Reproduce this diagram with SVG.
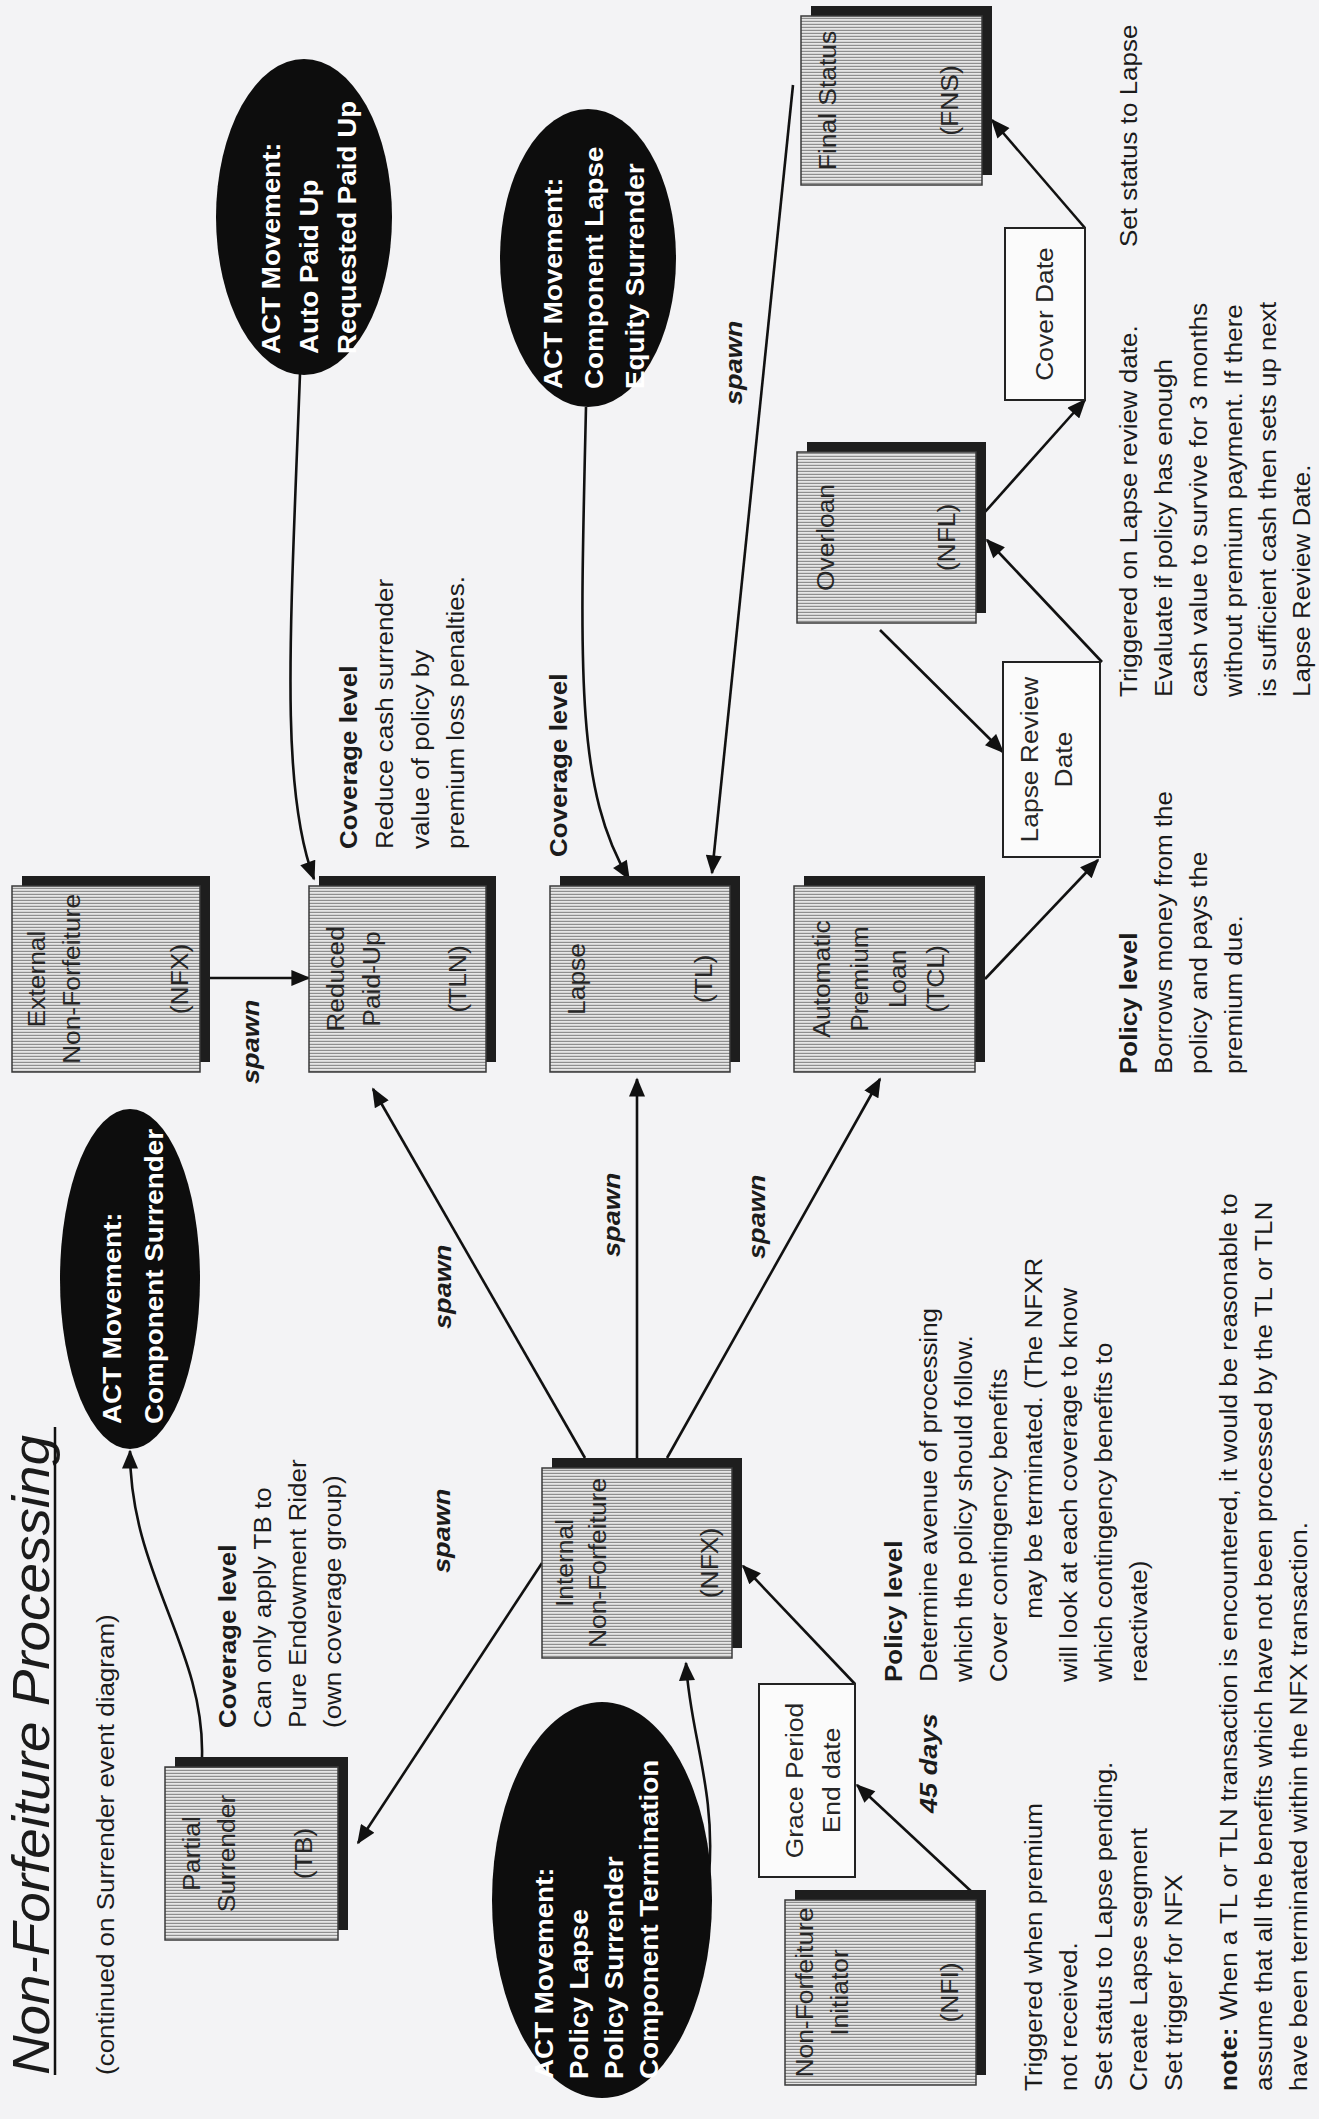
<svg xmlns="http://www.w3.org/2000/svg" width="1319" height="2119" viewBox="0 0 1319 2119">
<defs>
<style>
text{font-family:"Liberation Sans",Arial,Helvetica,sans-serif;fill:#1b1b1b}
.t{font-size:23px}
.b{font-weight:bold}
.lbl{font-size:24px;text-anchor:middle;fill:#262626}
.ell{font-size:26px;font-weight:bold;fill:#ffffff}
.spawn{font-size:24px;font-style:italic;font-weight:bold}
.title{font-size:52px;font-style:italic}
.box{fill:url(#hatch);stroke:#3a3a3a;stroke-width:1.5}
.shadow{fill:#1e1e1e}
.plain{fill:#fbfbfb;stroke:#222;stroke-width:2}
.oval{fill:#0d0d0d}
.edge{fill:none;stroke:#111;stroke-width:2.6;marker-end:url(#ah)}
.rule{stroke:#111;stroke-width:2.5}
</style>
<pattern id="hatch" width="3" height="3" patternUnits="userSpaceOnUse">
<rect width="3" height="3" fill="#e6e6e6"/>
<rect width="1.2" height="3" fill="#8e8e8e"/>
</pattern>
<marker id="ah" viewBox="0 0 12 10" refX="11" refY="5" markerWidth="20" markerHeight="16" markerUnits="userSpaceOnUse" orient="auto">
<path d="M0,0 L12,5 L0,10 z" fill="#111"/>
</marker>
</defs>

<rect width="1319" height="2119" fill="#f3f3f5"/>

<!-- page is laid out landscape and turned a quarter turn; text runs are widened to the printed proportions -->
<g id="page" transform="matrix(0 -1 1 0 0 2119)">

<!-- heading -->
<g id="heading">
<text class="title" x="44" y="49" textLength="640" lengthAdjust="spacingAndGlyphs">Non-Forfeiture Processing</text>
<line class="rule" x1="44" y1="55" x2="692" y2="55"/>
<g transform="translate(44,0) scale(1.13,1)"><text class="t" x="0" y="114">(continued on Surrender event diagram)</text></g>
</g>

<!-- connectors -->
<g id="connectors">
<path class="edge" d="M362,202 C470,205 545,130 668,130"/>
<path class="edge" d="M556,542 L276,358"/>
<path class="edge" d="M661,585 L1030,373"/>
<path class="edge" d="M661,637 L1040,637"/>
<path class="edge" d="M661,667 L1040,880"/>
<path class="edge" d="M244,709 C330,716 385,690 456,686"/>
<path class="edge" d="M226,973 L334,857"/>
<path class="edge" d="M435,855 L553,743"/>
<path class="edge" d="M1141,210 L1141,309"/>
<path class="edge" d="M1745,300 C1480,290 1330,280 1240,314"/>
<path class="edge" d="M1712,586 C1450,580 1330,575 1240,629"/>
<path class="edge" d="M2034,793 L1246,712"/>
<path class="edge" d="M1140,985 L1259,1098"/>
<path class="edge" d="M1489,880 L1367,1003"/>
<path class="edge" d="M1457,1102 L1579,987"/>
<path class="edge" d="M1607,985 L1719,1085"/>
<path class="edge" d="M1891,1085 L1999,992"/>
<g transform="translate(1035,0) scale(1.13,1)"><text class="spawn" x="0" y="259">spawn</text></g>
<g transform="translate(546,0) scale(1.13,1)"><text class="spawn" x="0" y="450">spawn</text></g>
<g transform="translate(790,0) scale(1.13,1)"><text class="spawn" x="0" y="451">spawn</text></g>
<g transform="translate(862,0) scale(1.13,1)"><text class="spawn" x="0" y="620">spawn</text></g>
<g transform="translate(860,0) scale(1.13,1)"><text class="spawn" x="0" y="765">spawn</text></g>
<g transform="translate(1714,0) scale(1.13,1)"><text class="spawn" x="0" y="742">spawn</text></g>
<g transform="translate(306,0) scale(1.13,1)"><text class="spawn" x="0" y="937">45 days</text></g>
</g>

<!-- transaction boxes -->
<g id="node-ext">
<rect class="shadow" x="1057" y="22" width="186" height="188"/>
<rect class="box" x="1047" y="12" width="186" height="188"/>
<g transform="translate(1140,0) scale(1.1,1)">
<text class="lbl" x="0" y="45">External</text>
<text class="lbl" x="0" y="80">Non-Forfeiture</text>
<text class="lbl" x="0" y="188">(NFX)</text>
</g>
</g>
<g id="node-tln">
<rect class="shadow" x="1057" y="319" width="186" height="177"/>
<rect class="box" x="1047" y="309" width="186" height="177"/>
<g transform="translate(1140,0) scale(1.1,1)">
<text class="lbl" x="0" y="344">Reduced</text>
<text class="lbl" x="0" y="380">Paid-Up</text>
<text class="lbl" x="0" y="466">(TLN)</text>
</g>
</g>
<g id="node-tl">
<rect class="shadow" x="1057" y="560" width="186" height="180"/>
<rect class="box" x="1047" y="550" width="186" height="180"/>
<g transform="translate(1140,0) scale(1.1,1)">
<text class="lbl" x="0" y="585">Lapse</text>
<text class="lbl" x="0" y="712">(TL)</text>
</g>
</g>
<g id="node-apl">
<rect class="shadow" x="1057" y="804" width="186" height="181"/>
<rect class="box" x="1047" y="794" width="186" height="181"/>
<g transform="translate(1140,0) scale(1.1,1)">
<text class="lbl" x="0" y="830">Automatic</text>
<text class="lbl" x="0" y="868">Premium</text>
<text class="lbl" x="0" y="906">Loan</text>
<text class="lbl" x="0" y="944">(TCL)</text>
</g>
</g>
<g id="node-nfx">
<rect class="shadow" x="471" y="552" width="190" height="190"/>
<rect class="box" x="461" y="542" width="190" height="190"/>
<g transform="translate(556,0) scale(1.1,1)">
<text class="lbl" x="0" y="573">Internal</text>
<text class="lbl" x="0" y="606">Non-Forfeiture</text>
<text class="lbl" x="0" y="718">(NFX)</text>
</g>
</g>
<g id="node-tb">
<rect class="shadow" x="189" y="175" width="173" height="173"/>
<rect class="box" x="179" y="165" width="173" height="173"/>
<g transform="translate(265.5,0) scale(1.1,1)">
<text class="lbl" x="0" y="200">Partial</text>
<text class="lbl" x="0" y="235">Surrender</text>
<text class="lbl" x="0" y="312">(TB)</text>
</g>
</g>
<g id="node-nfi">
<rect class="shadow" x="44" y="795" width="185" height="191"/>
<rect class="box" x="34" y="785" width="185" height="191"/>
<g transform="translate(126.5,0) scale(1.1,1)">
<text class="lbl" x="0" y="813">Non-Forfeiture</text>
<text class="lbl" x="0" y="848">Initiator</text>
<text class="lbl" x="0" y="958">(NFI)</text>
</g>
</g>
<g id="node-fns">
<rect class="shadow" x="1944" y="811" width="169" height="181"/>
<rect class="box" x="1934" y="801" width="169" height="181"/>
<g transform="translate(2018.5,0) scale(1.1,1)">
<text class="lbl" x="0" y="836">Final Status</text>
<text class="lbl" x="0" y="958">(FNS)</text>
</g>
</g>
<g id="node-nfl">
<rect class="shadow" x="1506" y="807" width="171" height="179"/>
<rect class="box" x="1496" y="797" width="171" height="179"/>
<g transform="translate(1581.5,0) scale(1.1,1)">
<text class="lbl" x="0" y="834">Overloan</text>
<text class="lbl" x="0" y="955">(NFL)</text>
</g>
</g>

<!-- date triggers -->
<g id="node-grace">
<rect class="plain" x="242" y="759" width="193" height="96"/>
<g transform="translate(338.5,0) scale(1.1,1)">
<text class="lbl" x="0" y="803">Grace Period</text>
<text class="lbl" x="0" y="840">End date</text>
</g>
</g>
<g id="node-lrd">
<rect class="plain" x="1262" y="1003" width="195" height="97"/>
<g transform="translate(1359.5,0) scale(1.1,1)">
<text class="lbl" x="0" y="1038">Lapse Review</text>
<text class="lbl" x="0" y="1072">Date</text>
</g>
</g>
<g id="node-cover">
<rect class="plain" x="1719" y="1005" width="172" height="80"/>
<g transform="translate(1805,0) scale(1.1,1)">
<text class="lbl" x="0" y="1053">Cover Date</text>
</g>
</g>

<!-- ACT movement events -->
<g id="node-act-paidup">
<ellipse class="oval" cx="1902" cy="304" rx="158" ry="88"/>
<g transform="translate(1765,0) scale(1.07,1)">
<text class="ell" x="0" y="280">ACT Movement:</text>
<text class="ell" x="0" y="318">Auto Paid Up</text>
<text class="ell" x="0" y="356">Requested Paid Up</text>
</g>
</g>
<g id="node-act-lapse">
<ellipse class="oval" cx="1861" cy="588" rx="149" ry="88"/>
<g transform="translate(1730,0) scale(1.07,1)">
<text class="ell" x="0" y="562">ACT Movement:</text>
<text class="ell" x="0" y="603">Component Lapse</text>
<text class="ell" x="0" y="644">Equity Surrender</text>
</g>
</g>
<g id="node-act-surrender">
<ellipse class="oval" cx="840" cy="130" rx="170" ry="70"/>
<g transform="translate(695,0) scale(1.07,1)">
<text class="ell" x="0" y="121">ACT Movement:</text>
<text class="ell" x="0" y="163">Component Surrender</text>
</g>
</g>
<g id="node-act-policy">
<ellipse class="oval" cx="219" cy="602" rx="198" ry="110"/>
<g transform="translate(40,0) scale(1.07,1)">
<text class="ell" x="0" y="553">ACT Movement:</text>
<text class="ell" x="0" y="588">Policy Lapse</text>
<text class="ell" x="0" y="623">Policy Surrender</text>
<text class="ell" x="0" y="658">Component Termination</text>
</g>
</g>

<!-- annotations -->
<g id="notes">
<g transform="translate(391,0) scale(1.13,1)" class="t">
<text x="0" y="236" class="b">Coverage level</text>
<text x="0" y="271">Can only apply TB to</text>
<text x="0" y="306">Pure Endowment Rider</text>
<text x="0" y="341">(own coverage group)</text>
</g>
<g transform="translate(1270,0) scale(1.13,1)" class="t">
<text x="0" y="357" class="b">Coverage level</text>
<text x="0" y="393">Reduce cash surrender</text>
<text x="0" y="429">value of policy by</text>
<text x="0" y="464">premium loss penalties.</text>
</g>
<g transform="translate(1262,0) scale(1.13,1)" class="t">
<text x="0" y="567" class="b">Coverage level</text>
</g>
<g transform="translate(1045,0) scale(1.13,1)" class="t">
<text x="0" y="1137" class="b">Policy level</text>
<text x="0" y="1172">Borrows money from the</text>
<text x="0" y="1207">policy and pays the</text>
<text x="0" y="1242">premium due.</text>
</g>
<g transform="translate(1422,0) scale(1.13,1)" class="t">
<text x="0" y="1137">Triggered on Lapse review date.</text>
<text x="0" y="1172">Evaluate if policy has enough</text>
<text x="0" y="1207">cash value to survive for 3 months</text>
<text x="0" y="1242">without premium payment. If there</text>
<text x="0" y="1276">is sufficient cash then sets up next</text>
<text x="0" y="1310">Lapse Review Date.</text>
</g>
<g transform="translate(1872,0) scale(1.13,1)" class="t">
<text x="0" y="1137">Set status to Lapse</text>
</g>
<g transform="translate(437,0) scale(1.13,1)" class="t">
<text x="0" y="902" class="b">Policy level</text>
<text x="0" y="937">Determine avenue of processing</text>
<text x="0" y="972">which the policy should follow.</text>
<text x="0" y="1007">Cover contingency benefits</text>
<text x="56" y="1042">may be terminated. (The NFXR</text>
<text x="0" y="1077">will look at each coverage to know</text>
<text x="0" y="1112">which contingency benefits to</text>
<text x="0" y="1147">reactivate)</text>
</g>
<g transform="translate(28,0) scale(1.13,1)" class="t">
<text x="0" y="1042">Triggered when premium</text>
<text x="0" y="1077">not received.</text>
<text x="0" y="1112">Set status to Lapse pending.</text>
<text x="0" y="1147">Create Lapse segment</text>
<text x="0" y="1182">Set trigger for NFX</text>
<text x="0" y="1237"><tspan class="b">note:</tspan> When a TL or TLN transaction is encountered, it would be reasonable to</text>
<text x="0" y="1272">assume that all the benefits which have not been processed by the TL or TLN</text>
<text x="0" y="1307">have been terminated within the NFX transaction.</text>
</g>
</g>

</g>
</svg>
